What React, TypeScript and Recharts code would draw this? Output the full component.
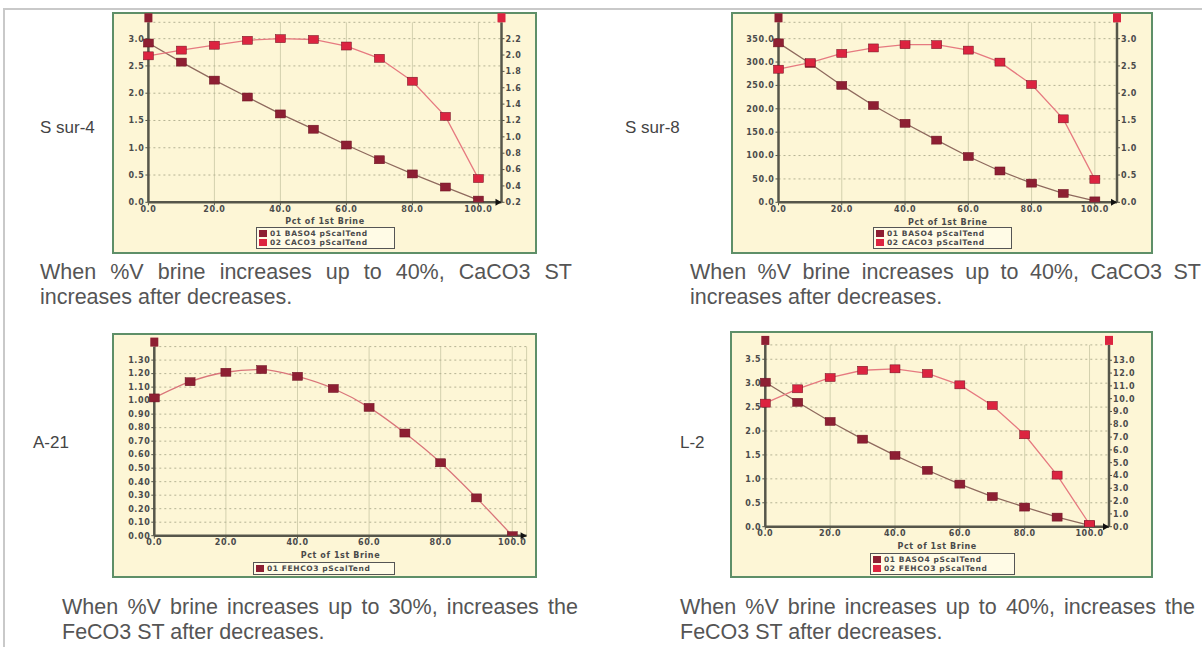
import { LineChart, Line, XAxis, YAxis, CartesianGrid, ReferenceDot } from "recharts";

// x values shared by every chart (percent of 1st brine)
const pctBrine = [0, 10, 20, 30, 40, 50, 60, 70, 80, 90, 100];

const sur4Baso4 = [2.92, 2.57, 2.24, 1.93, 1.62, 1.34, 1.05, 0.78, 0.52, 0.28, 0.04];
const sur4Caco3 = [1.99, 2.06, 2.12, 2.18, 2.2, 2.19, 2.11, 1.96, 1.68, 1.25, 0.49];

const sur8Baso4 = [341, 297, 250, 207, 169, 133, 98, 67, 41, 19, 3];
const sur8Caco3 = [2.44, 2.56, 2.73, 2.83, 2.89, 2.89, 2.79, 2.57, 2.16, 1.53, 0.42];

const a21Fehco3 = [1.02, 1.14, 1.21, 1.23, 1.18, 1.09, 0.95, 0.76, 0.54, 0.28, 0.0];

const l2Baso4 = [3.02, 2.6, 2.2, 1.83, 1.49, 1.18, 0.89, 0.63, 0.41, 0.2, 0.03];
const l2Fehco3 = [9.65, 10.77, 11.65, 12.22, 12.33, 11.97, 11.08, 9.47, 7.18, 4.03, 0.19];

const xTicks = [0, 20, 40, 60, 80, 100];
const sur4LeftTicks = [0, 0.5, 1, 1.5, 2, 2.5, 3];
const sur4RightTicks = [0.2, 0.4, 0.6, 0.8, 1, 1.2, 1.4, 1.6, 1.8, 2, 2.2];
const sur8LeftTicks = [0, 50, 100, 150, 200, 250, 300, 350];
const sur8RightTicks = [0, 0.5, 1, 1.5, 2, 2.5, 3];
const a21Ticks = [0, 0.1, 0.2, 0.3, 0.4, 0.5, 0.6, 0.7, 0.8, 0.9, 1, 1.1, 1.2, 1.3];
const l2LeftTicks = [0, 0.5, 1, 1.5, 2, 2.5, 3, 3.5];
const l2RightTicks = [0, 1, 2, 3, 4, 5, 6, 7, 8, 9, 10, 11, 12, 13];

const DARK = "#8e1f33";
const RED = "#dc2440";
const AXIS = "#56564a";
const tickStyle = { fontSize: 8, fontWeight: 700, fill: "#4a4a4a", fontFamily: "DejaVu Sans", letterSpacing: 0.6 };

function squareDot(fill: string) {
  return (p: any) => (
    <rect key={p.index} x={p.cx - 5} y={p.cy - 4} width={10} height={8} fill={fill} stroke="#6a1020" strokeWidth={0.5} />
  );
}

const topMark = (fill: string) => (p: any) => <rect x={p.cx - 4} y={p.cy - 9} width={8} height={9} fill={fill} />;
const arrow = (p: any) => (
  <polygon points={`${p.cx - 6},${p.cy - 3.5} ${p.cx},${p.cy} ${p.cx - 6},${p.cy + 3.5}`} fill="#111" />
);

function Panel({ cfg }: { cfg: any }) {
  const { left, top, width, height, plot, xMax, lAxis, rAxis, series, legend, curve, labelOffset } = cfg;
  const data = pctBrine.map((p, i) => {
    const row: any = { pct: p };
    series.forEach((s: any) => (row[s.key] = s.values[i]));
    return row;
  });
  return (
    <div
      style={{
        position: "absolute", left, top, width, height, boxSizing: "border-box",
        border: "2px solid #5e8f68", background: "#fdf6d6",
      }}
    >
      <div style={{ position: "absolute", left: -2, top: -2 }}>
        <LineChart width={width} height={height} data={data}
          margin={{ top: plot.t, right: rAxis ? 0 : plot.r, bottom: 0, left: 0 }}>
          <CartesianGrid yAxisId="left" horizontal={false} stroke="#d3d0ae" />
          <CartesianGrid yAxisId="left" vertical={false} stroke="#b5b394" strokeDasharray="2 3" />
          <XAxis
            dataKey="pct" type="number" domain={[0, xMax]} ticks={xTicks} height={plot.b} interval={0}
            tickFormatter={(v: number) => v.toFixed(1)} tick={tickStyle} tickSize={3} tickMargin={1}
            axisLine={{ stroke: AXIS, strokeWidth: 2.5 }} tickLine={{ stroke: AXIS }}
            label={{ value: "Pct of 1st Brine", position: "insideBottom", offset: labelOffset, style: tickStyle }}
          />
          <YAxis
            yAxisId="left" type="number" domain={lAxis.domain} ticks={lAxis.ticks} width={plot.l} interval={0}
            allowDataOverflow tickFormatter={(v: number) => v.toFixed(lAxis.dec)} tick={tickStyle}
            tickSize={3} tickMargin={1} axisLine={{ stroke: AXIS, strokeWidth: 2.5 }} tickLine={{ stroke: AXIS }}
          />
          {rAxis && (
            <YAxis
              yAxisId="right" orientation="right" type="number" domain={rAxis.domain} ticks={rAxis.ticks} interval={0}
              width={plot.r} allowDataOverflow tickFormatter={(v: number) => v.toFixed(rAxis.dec)} tick={tickStyle}
              tickSize={3} tickMargin={1} axisLine={{ stroke: AXIS, strokeWidth: 2.5 }} tickLine={{ stroke: AXIS }}
            />
          )}
          {series.map((s: any) => (
            <Line
              key={s.key} yAxisId={s.axis} dataKey={s.key} type={curve} stroke={s.line} strokeWidth={1.3}
              dot={squareDot(s.fill)} activeDot={false} isAnimationActive={false}
            />
          ))}
          <ReferenceDot yAxisId="left" x={0} y={lAxis.domain[1]} ifOverflow="visible" shape={topMark(DARK)} />
          {rAxis && (
            <ReferenceDot yAxisId="right" x={xMax} y={rAxis.domain[1]} ifOverflow="visible" shape={topMark(RED)} />
          )}
          <ReferenceDot yAxisId="left" x={xMax} y={lAxis.domain[0]} ifOverflow="visible" shape={arrow} />
        </LineChart>
      </div>
      <div
        style={{
          position: "absolute", left: legend.x - left - 2, top: legend.y - top - 2, width: legend.w,
          border: "1px solid #555", background: "#fffbe6", padding: "1px 2px", boxSizing: "border-box",
        }}
      >
        {series.map((s: any) => (
          <div key={s.key} style={{ display: "flex", alignItems: "center", height: 9 }}>
            <span style={{ width: 8, height: 7, background: s.fill, marginRight: 3, display: "inline-block" }} />
            <span style={{ ...tickStyle, color: "#4a4a4a", fontSize: 7.5, whiteSpace: "nowrap" }}>{s.name}</span>
          </div>
        ))}
      </div>
    </div>
  );
}

const charts = [
  {
    left: 112, top: 12, width: 425, height: 242, plot: { l: 36.4, r: 35.5, t: 10.3, b: 51.7 }, xMax: 107,
    lAxis: { domain: [0, 3.3], ticks: sur4LeftTicks, dec: 1 }, rAxis: { domain: [0.2, 2.4], ticks: sur4RightTicks, dec: 1 },
    curve: "linear", labelOffset: 30, legend: { x: 256, y: 227, w: 139 },
    series: [
      { key: "baso4", values: sur4Baso4, axis: "left", line: "#8f6a5e", fill: DARK, name: "01 BASO4 pScalTend" },
      { key: "caco3", values: sur4Caco3, axis: "right", line: "#e67a80", fill: RED, name: "02 CACO3 pScalTend" },
    ],
  },
  {
    left: 731, top: 12, width: 422, height: 242, plot: { l: 47.5, r: 36, t: 10.3, b: 51.7 }, xMax: 107,
    lAxis: { domain: [0, 385], ticks: sur8LeftTicks, dec: 1 }, rAxis: { domain: [0, 3.3], ticks: sur8RightTicks, dec: 1 },
    curve: "linear", labelOffset: 29.5, legend: { x: 873, y: 227, w: 139 },
    series: [
      { key: "baso4", values: sur8Baso4, axis: "left", line: "#8f6a5e", fill: DARK, name: "01 BASO4 pScalTend" },
      { key: "caco3", values: sur8Caco3, axis: "right", line: "#e67a80", fill: RED, name: "02 CACO3 pScalTend" },
    ],
  },
  {
    left: 112, top: 333, width: 425, height: 245, plot: { l: 42.3, r: 10.4, t: 13.6, b: 42.3 }, xMax: 104,
    lAxis: { domain: [0, 1.4], ticks: a21Ticks, dec: 2 }, rAxis: null,
    curve: "monotone", labelOffset: 20, legend: { x: 253, y: 562, w: 142 },
    series: [
      { key: "fehco3", values: a21Fehco3, axis: "left", line: "#d9757a", fill: DARK, name: "01 FEHCO3 pScalTend" },
    ],
  },
  {
    left: 730, top: 331, width: 423, height: 247, plot: { l: 35.3, r: 44, t: 13.9, b: 51.3 }, xMax: 106,
    lAxis: { domain: [0, 3.8], ticks: l2LeftTicks, dec: 1 }, rAxis: { domain: [0, 14.2], ticks: l2RightTicks, dec: 1 },
    curve: "linear", labelOffset: 29, legend: { x: 870, y: 553, w: 145 },
    series: [
      { key: "baso4", values: l2Baso4, axis: "left", line: "#8f6a5e", fill: DARK, name: "01 BASO4 pScalTend" },
      { key: "fehco3", values: l2Fehco3, axis: "right", line: "#e67a80", fill: RED, name: "02 FEHCO3 pScalTend" },
    ],
  },
];

const sideLabels = [
  { text: "S sur-4", x: 40, y: 118 },
  { text: "S sur-8", x: 625, y: 118 },
  { text: "A-21", x: 33, y: 433 },
  { text: "L-2", x: 680, y: 433 },
];

const captions = [
  { l1: "When %V brine increases up to 40%, CaCO3 ST", l2: "increases after decreases.", x: 40, y: 260, w: 532 },
  { l1: "When %V brine increases up to 40%, CaCO3 ST", l2: "increases after decreases.", x: 690, y: 260, w: 511 },
  { l1: "When %V brine increases up to 30%, increases the", l2: "FeCO3 ST after decreases.", x: 62, y: 595, w: 516 },
  { l1: "When %V brine increases up to 40%, increases the", l2: "FeCO3 ST after decreases.", x: 680, y: 595, w: 515 },
];

export default function App() {
  const capFont = { fontFamily: "Liberation Sans", fontSize: 21.5, color: "#555", lineHeight: "25px" };
  return (
    <div style={{ position: "absolute", left: 0, top: 0, width: 1202, height: 647, background: "#fff", overflow: "hidden" }}>
      <div style={{ position: "absolute", left: 3, top: 8, width: 1199, height: 2, background: "#c9c9c9" }} />
      <div style={{ position: "absolute", left: 3, top: 8, width: 2, height: 639, background: "#c9c9c9" }} />
      {charts.map((c, i) => (
        <Panel key={i} cfg={c} />
      ))}
      {sideLabels.map((s) => (
        <div key={s.text} style={{ position: "absolute", left: s.x, top: s.y, fontFamily: "Liberation Sans", fontSize: 17, color: "#444", whiteSpace: "nowrap" }}>
          {s.text}
        </div>
      ))}
      {captions.map((c, i) => (
        <div key={i} style={{ position: "absolute", left: c.x, top: c.y, width: c.w, ...capFont }}>
          <div style={{ textAlign: "justify", textAlignLast: "justify", whiteSpace: "nowrap" } as any}>{c.l1}</div>
          <div style={{ whiteSpace: "nowrap" }}>{c.l2}</div>
        </div>
      ))}
    </div>
  );
}
